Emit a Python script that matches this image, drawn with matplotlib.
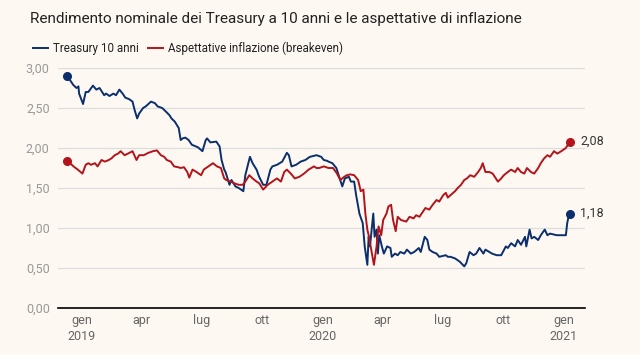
import matplotlib
matplotlib.use("Agg")
import matplotlib.pyplot as plt
import matplotlib.ticker as mticker
import pandas as pd

# rendimento Treasury 10 anni (%)
treasury_dates = [
    "2018-12-10", "2018-12-19", "2018-12-24", "2018-12-27", "2018-12-28", "2019-01-03", "2019-01-07",
    "2019-01-11", "2019-01-18", "2019-01-23", "2019-01-28", "2019-02-04", "2019-02-07", "2019-02-12",
    "2019-02-18", "2019-02-22", "2019-02-27", "2019-03-04", "2019-03-08", "2019-03-14", "2019-03-19",
    "2019-03-22", "2019-03-26", "2019-03-29", "2019-04-04", "2019-04-08", "2019-04-16", "2019-04-22",
    "2019-04-26", "2019-05-03", "2019-05-08", "2019-05-14", "2019-05-17", "2019-05-22", "2019-05-28",
    "2019-05-31", "2019-06-03", "2019-06-07", "2019-06-12", "2019-06-17", "2019-06-26", "2019-07-03",
    "2019-07-08", "2019-07-10", "2019-07-15", "2019-07-24", "2019-07-29", "2019-08-01", "2019-08-05",
    "2019-08-07", "2019-08-13", "2019-08-16", "2019-08-22", "2019-08-27", "2019-09-03", "2019-09-06",
    "2019-09-13", "2019-09-17", "2019-09-23", "2019-09-27", "2019-10-03", "2019-10-08", "2019-10-14",
    "2019-10-17", "2019-10-24", "2019-11-01", "2019-11-08", "2019-11-11", "2019-11-15", "2019-11-22",
    "2019-11-29", "2019-12-06", "2019-12-13", "2019-12-23", "2019-12-30", "2020-01-03", "2020-01-08",
    "2020-01-10", "2020-01-16", "2020-01-22", "2020-01-27", "2020-01-31", "2020-02-04", "2020-02-10",
    "2020-02-13", "2020-02-18", "2020-02-21", "2020-02-26", "2020-03-02", "2020-03-05", "2020-03-09",
    "2020-03-11", "2020-03-13", "2020-03-18", "2020-03-20", "2020-03-23", "2020-03-25", "2020-03-27",
    "2020-03-31", "2020-04-03", "2020-04-08", "2020-04-13", "2020-04-15", "2020-04-20", "2020-04-24",
    "2020-04-28", "2020-05-04", "2020-05-08", "2020-05-14", "2020-05-19", "2020-05-26", "2020-05-29",
    "2020-06-04", "2020-06-08", "2020-06-11", "2020-06-16", "2020-06-22", "2020-06-26", "2020-07-06",
    "2020-07-09", "2020-07-13", "2020-07-20", "2020-07-27", "2020-08-03", "2020-08-06", "2020-08-11",
    "2020-08-17", "2020-08-21", "2020-08-26", "2020-09-01", "2020-09-04", "2020-09-14", "2020-09-21",
    "2020-09-28", "2020-10-05", "2020-10-08", "2020-10-13", "2020-10-19", "2020-10-23", "2020-10-28",
    "2020-11-03", "2020-11-05", "2020-11-10", "2020-11-13", "2020-11-17", "2020-11-23", "2020-11-27",
    "2020-12-03", "2020-12-07", "2020-12-11", "2020-12-21", "2020-12-28", "2021-01-04", "2021-01-06",
    "2021-01-08", "2021-01-11",
]
treasury_values = [
    2.90, 2.79, 2.75, 2.77, 2.68, 2.55, 2.70,
    2.70, 2.78, 2.73, 2.75, 2.66, 2.68, 2.65,
    2.68, 2.66, 2.73, 2.68, 2.63, 2.61, 2.58,
    2.48, 2.37, 2.43, 2.50, 2.52, 2.58, 2.56,
    2.52, 2.50, 2.46, 2.41, 2.37, 2.33, 2.25,
    2.10, 2.12, 2.13, 2.10, 2.04, 2.01, 1.96,
    2.10, 2.12, 2.07, 2.08, 2.02, 1.85, 1.73,
    1.70, 1.54, 1.60, 1.52, 1.50, 1.46, 1.66,
    1.89, 1.81, 1.73, 1.64, 1.54, 1.54, 1.73,
    1.77, 1.79, 1.83, 1.94, 1.91, 1.77, 1.79,
    1.83, 1.85, 1.89, 1.91, 1.89, 1.85, 1.84,
    1.83, 1.81, 1.75, 1.62, 1.52, 1.62, 1.64,
    1.58, 1.58, 1.41, 1.18, 1.06, 0.77, 0.54,
    0.89, 0.77, 1.18, 0.89, 0.98, 0.68, 0.91,
    0.77, 0.68, 0.77, 0.75, 0.64, 0.68, 0.66,
    0.70, 0.68, 0.73, 0.68, 0.70, 0.75, 0.70,
    0.89, 0.85, 0.73, 0.70, 0.68, 0.64, 0.66,
    0.64, 0.64, 0.62, 0.58, 0.52, 0.56, 0.70,
    0.66, 0.68, 0.75, 0.68, 0.73, 0.68, 0.66,
    0.66, 0.77, 0.75, 0.81, 0.77, 0.85, 0.79,
    0.89, 0.77, 0.98, 0.87, 0.89, 0.85, 0.91,
    0.98, 0.91, 0.93, 0.91, 0.91, 0.91, 1.06,
    1.14, 1.18,
]

# aspettative di inflazione, breakeven 10 anni (%)
breakeven_dates = [
    "2018-12-10", "2018-12-17", "2018-12-21", "2018-12-26", "2019-01-02", "2019-01-07", "2019-01-11",
    "2019-01-15", "2019-01-21", "2019-01-25", "2019-01-31", "2019-02-05", "2019-02-11", "2019-02-15",
    "2019-02-20", "2019-02-25", "2019-03-01", "2019-03-07", "2019-03-12", "2019-03-19", "2019-03-25",
    "2019-03-29", "2019-04-05", "2019-04-12", "2019-04-19", "2019-04-25", "2019-05-01", "2019-05-06",
    "2019-05-10", "2019-05-16", "2019-05-21", "2019-05-27", "2019-05-31", "2019-06-05", "2019-06-10",
    "2019-06-13", "2019-06-18", "2019-06-24", "2019-07-01", "2019-07-05", "2019-07-12", "2019-07-19",
    "2019-07-25", "2019-07-31", "2019-08-05", "2019-08-08", "2019-08-15", "2019-08-20", "2019-08-27",
    "2019-09-02", "2019-09-06", "2019-09-12", "2019-09-17", "2019-09-23", "2019-09-27", "2019-10-03",
    "2019-10-10", "2019-10-17", "2019-10-24", "2019-10-30", "2019-11-04", "2019-11-08", "2019-11-14",
    "2019-11-20", "2019-11-27", "2019-12-04", "2019-12-11", "2019-12-19", "2019-12-23", "2019-12-27",
    "2020-01-03", "2020-01-10", "2020-01-17", "2020-01-23", "2020-01-28", "2020-02-03", "2020-02-07",
    "2020-02-12", "2020-02-18", "2020-02-24", "2020-02-28", "2020-03-03", "2020-03-06", "2020-03-09",
    "2020-03-11", "2020-03-16", "2020-03-19", "2020-03-23", "2020-03-26", "2020-03-30", "2020-04-02",
    "2020-04-07", "2020-04-10", "2020-04-14", "2020-04-17", "2020-04-21", "2020-04-24", "2020-04-29",
    "2020-05-07", "2020-05-12", "2020-05-18", "2020-05-22", "2020-05-27", "2020-06-01", "2020-06-05",
    "2020-06-11", "2020-06-16", "2020-06-22", "2020-06-26", "2020-07-02", "2020-07-06", "2020-07-09",
    "2020-07-13", "2020-07-20", "2020-07-24", "2020-07-29", "2020-08-03", "2020-08-07", "2020-08-12",
    "2020-08-18", "2020-08-24", "2020-08-28", "2020-08-31", "2020-09-04", "2020-09-10", "2020-09-15",
    "2020-09-23", "2020-09-28", "2020-10-02", "2020-10-08", "2020-10-13", "2020-10-19", "2020-10-23",
    "2020-10-28", "2020-11-02", "2020-11-06", "2020-11-12", "2020-11-17", "2020-11-23", "2020-11-27",
    "2020-12-02", "2020-12-07", "2020-12-11", "2020-12-17", "2020-12-22", "2020-12-28", "2021-01-04",
    "2021-01-07", "2021-01-11",
]
breakeven_values = [
    1.84, 1.79, 1.76, 1.73, 1.68, 1.79, 1.81,
    1.79, 1.81, 1.77, 1.85, 1.83, 1.85, 1.87,
    1.91, 1.93, 1.96, 1.91, 1.93, 1.96, 1.85,
    1.91, 1.91, 1.94, 1.96, 1.97, 1.91, 1.89,
    1.85, 1.83, 1.77, 1.76, 1.75, 1.76, 1.70,
    1.63, 1.73, 1.70, 1.66, 1.73, 1.77, 1.81,
    1.77, 1.75, 1.62, 1.60, 1.58, 1.56, 1.54,
    1.54, 1.58, 1.66, 1.62, 1.58, 1.56, 1.48,
    1.54, 1.58, 1.62, 1.58, 1.70, 1.73, 1.68,
    1.62, 1.64, 1.68, 1.73, 1.77, 1.75, 1.75,
    1.77, 1.75, 1.75, 1.68, 1.60, 1.64, 1.66,
    1.67, 1.66, 1.60, 1.46, 1.48, 1.18, 0.98,
    0.91, 0.68, 0.54, 0.77, 1.02, 0.91, 1.10,
    1.18, 1.27, 1.29, 1.10, 0.96, 1.14, 1.10,
    1.08, 1.14, 1.12, 1.16, 1.14, 1.20, 1.25,
    1.23, 1.29, 1.35, 1.33, 1.41, 1.44, 1.38,
    1.41, 1.46, 1.50, 1.54, 1.60, 1.62, 1.66,
    1.64, 1.70, 1.75, 1.81, 1.70, 1.70, 1.68,
    1.58, 1.62, 1.66, 1.70, 1.73, 1.70, 1.75,
    1.70, 1.68, 1.75, 1.70, 1.68, 1.75, 1.81,
    1.87, 1.91, 1.89, 1.96, 1.93, 1.96, 2.00,
    2.04, 2.08,
]

tick_dates = ["2019-01-01", "2019-04-01", "2019-07-01", "2019-10-01", "2020-01-01",
              "2020-04-01", "2020-07-01", "2020-10-01", "2021-01-01"]
tick_labels = ["gen\n2019", "apr", "lug", "ott", "gen\n2020", "apr", "lug", "ott", "gen\n2021"]
y_ticks = [0, 0.5, 1.0, 1.5, 2.0, 2.5, 3.0]

title = "Rendimento nominale dei Treasury a 10 anni e le aspettative di inflazione"
labels = ["Treasury 10 anni", "Aspettative inflazione (breakeven)"]

bg = "#fdf8f2"
blue = "#0b2f6c"
red = "#b3141c"

plt.rcParams["font.family"] = ["Roboto", "DejaVu Sans"]

t_dates = pd.to_datetime(treasury_dates)
b_dates = pd.to_datetime(breakeven_dates)

fig = plt.figure(figsize=(6.4, 3.55), dpi=100, facecolor=bg)
ax = fig.add_axes([58 / 640, 1 - 308 / 355, 527 / 640, 240 / 355])
ax.set_facecolor(bg)

ax.plot(t_dates, treasury_values, color=blue, lw=1.4, label=labels[0], solid_joinstyle="round")
ax.plot(b_dates, breakeven_values, color=red, lw=1.4, label=labels[1], solid_joinstyle="round")

# pallini iniziali e finali
for d, v, c in [(t_dates, treasury_values, blue), (b_dates, breakeven_values, red)]:
    ax.plot([d[0], d[-1]], [v[0], v[-1]], "o", color=c, ms=5.5, clip_on=False, zorder=5)
    ax.annotate(f"{v[-1]:.2f}".replace(".", ","), (d[-1], v[-1]), xytext=(7, 0),
                textcoords="offset points", va="center", ha="left", fontsize=9, color="#333333")

ax.set_xlim(pd.Timestamp("2018-11-26"), pd.Timestamp("2021-02-02"))
ax.set_ylim(0, 3.0)
ax.set_yticks(y_ticks)
ax.yaxis.set_major_formatter(mticker.FuncFormatter(lambda v, p: f"{v:.2f}".replace(".", ",")))
ax.set_xticks(pd.to_datetime(tick_dates))
ax.set_xticklabels(tick_labels)

ax.grid(axis="y", color="#dddddd", lw=0.9)
ax.set_axisbelow(True)
for s in ["top", "right", "left"]:
    ax.spines[s].set_visible(False)
ax.spines["bottom"].set_color("black")
ax.spines["bottom"].set_linewidth(1.2)
ax.tick_params(axis="y", length=0, pad=6, labelsize=9, labelcolor="#999999")
ax.tick_params(axis="x", length=0, pad=4, labelsize=9, labelcolor="#666666")
for lab in ax.get_xticklabels():
    lab.set_linespacing(1.3)

fig.text(30 / 640, 1 - 19 / 355, title, fontsize=11, color="#222222", va="center", ha="left")
fig.legend(loc="center left", bbox_to_anchor=(22 / 640, 1 - 48 / 355), ncol=2, frameon=False,
           fontsize=8.4, handlelength=1.3, handletextpad=0.45, columnspacing=0.8,
           labelcolor="#222222")

fig.savefig("out.png", dpi=100, facecolor=bg)
